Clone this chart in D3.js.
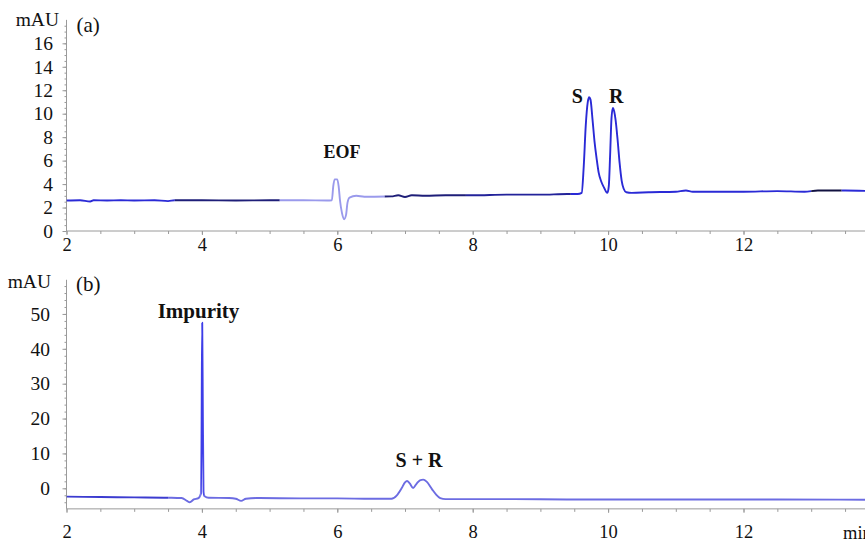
<!DOCTYPE html>
<html><head><meta charset="utf-8">
<script src="https://cdn.jsdelivr.net/npm/d3@7/dist/d3.min.js"></script>
<style>
body{margin:0;background:#fff}
svg{display:block}
text{font-family:"Liberation Serif","Times New Roman",serif;fill:#111}
</style>
</head><body>
<svg id="c" width="865" height="543"></svg>
<script>
// ---------- data ----------
const xTicks = [2, 4, 6, 8, 10, 12];
const aYTicks = [0, 2, 4, 6, 8, 10, 12, 14, 16];
const bYTicks = [0, 10, 20, 30, 40, 50];

// panel (a): time (min) and absorbance (mAU)
const aTime = [2.00, 2.20, 2.35, 2.40, 2.60, 2.80, 3.00, 3.30, 3.50, 3.60, 4.00, 4.50, 5.00, 5.50, 5.85,
  5.92, 5.94, 5.96, 6.00, 6.02, 6.04, 6.07, 6.10, 6.13, 6.15, 6.18, 6.28, 6.40, 6.80, 6.90, 7.00, 7.10, 7.30,
  7.60, 8.00, 8.50, 9.00, 9.40, 9.55, 9.61, 9.64, 9.67, 9.70, 9.72, 9.74, 9.77, 9.80, 9.83, 9.86, 9.90,
  9.94, 9.97, 9.99, 10.01, 10.03, 10.05, 10.07, 10.09, 10.11, 10.14, 10.17, 10.20, 10.23, 10.27, 10.35,
  10.60, 11.00, 11.15, 11.25, 11.60, 12.00, 12.50, 12.90, 13.10, 13.50, 13.90];
const aSignal = [2.60, 2.62, 2.52, 2.62, 2.60, 2.62, 2.60, 2.62, 2.55, 2.62, 2.62, 2.60, 2.62, 2.62, 2.60,
  2.62, 3.80, 4.40, 4.40, 3.80, 2.60, 1.50, 1.00, 1.40, 2.40, 2.85, 3.00, 2.92, 2.95, 3.05, 2.90, 3.05, 3.00,
  3.05, 3.05, 3.10, 3.10, 3.15, 3.15, 3.25, 5.50, 9.00, 11.00, 11.40, 11.20, 9.50, 7.60, 6.20, 5.00, 4.20,
  3.70, 3.35, 3.25, 3.80, 6.50, 9.60, 10.50, 10.20, 9.50, 7.80, 5.80, 4.30, 3.60, 3.30, 3.25,
  3.30, 3.35, 3.45, 3.35, 3.35, 3.35, 3.40, 3.35, 3.45, 3.45, 3.40];

// panel (b)
const bTime = [2.00, 2.50, 3.00, 3.50, 3.70, 3.78, 3.82, 3.88, 3.95, 3.985, 3.995, 4.005, 4.015, 4.025, 4.04,
  4.10, 4.40, 4.50, 4.58, 4.65, 4.80, 5.50, 6.00, 6.50, 6.80, 6.88, 6.95, 7.00, 7.03, 7.07, 7.12, 7.17,
  7.22, 7.27, 7.32, 7.40, 7.46, 7.52, 7.60, 8.50, 9.50, 10.50, 11.50, 12.50, 13.90];
const bSignal = [-2.4, -2.5, -2.6, -2.7, -2.8, -3.6, -4.0, -3.2, -2.8, -1.5, 20.0, 47.5, 20.0, -1.0, -2.3,
  -2.7, -2.8, -3.0, -3.6, -3.0, -2.8, -2.9, -2.9, -3.0, -3.0, -2.0, 0.0, 1.7, 2.1, 1.4, 0.1, 1.3,
  2.3, 2.5, 1.9, -0.3, -1.8, -2.8, -3.1, -3.1, -3.2, -3.2, -3.2, -3.2, -3.3];

// peak annotations (text, time, mAU at text baseline)
const aLabels = [["EOF", 6.07, 6.22], ["S", 9.545, 10.9], ["R", 10.12, 10.9]];
const bLabels = [["Impurity", 3.95, 48.8], ["S + R", 7.207, 6.1]];

// ---------- drawing ----------
const svg = d3.select("#c");
const W = 865;
const x = d3.scaleLinear().domain([2, 14]).range([66.5, 66.5 + 12 * 67.7]);
const yA = d3.scaleLinear().domain([0, 18]).range([231, 231 - 18 * 11.73]);
const yB = d3.scaleLinear().domain([-5.9, 59.8]).range([488.3 + 5.9 * 3.487, 488.3 - 59.8 * 3.487]);

const axisCol = "#9a9a9a";

function styleAxis(g) {
  g.attr("font-family", null).attr("font-size", null);
  g.selectAll("path.domain").attr("stroke", axisCol);
  g.selectAll(".tick line").attr("stroke", axisCol);
}

function panel(y, yTicks, minorStep, xLabelOff, yLabelGap, times, sig, segs, id) {
  const x0 = x(2);
  // x axis
  const gx = svg.append("g").attr("transform", `translate(0,${y.range()[0]})`);
  gx.call(d3.axisBottom(x).tickValues(d3.range(2, 14.01, 0.5)).tickSize(3).tickFormat(""));
  styleAxis(gx);
  gx.select("path.domain").attr("d", `M${x0},0H${W}`);
  const gx2 = svg.append("g").attr("transform", `translate(0,${y.range()[0]})`);
  gx2.call(d3.axisBottom(x).tickValues(xTicks).tickSize(4).tickFormat(d3.format("d")));
  styleAxis(gx2);
  gx2.select("path.domain").remove();
  gx2.selectAll("text").attr("y", xLabelOff).attr("font-size", 18.5);

  // y axis
  const yd = y.domain();
  const gy = svg.append("g").attr("transform", `translate(${x0},0)`);
  gy.call(d3.axisLeft(y).tickValues(d3.range(Math.ceil(yd[0] / minorStep) * minorStep, yd[1], minorStep)).tickSize(2).tickFormat(""));
  styleAxis(gy);
  gy.select("path.domain").attr("d", `M0,${y.range()[0]}V${y.range()[1]}`);
  const gy2 = svg.append("g").attr("transform", `translate(${x0},0)`);
  gy2.call(d3.axisLeft(y).tickValues(yTicks).tickSize(4).tickFormat(d3.format("d")));
  styleAxis(gy2);
  gy2.select("path.domain").remove();
  gy2.selectAll("text").attr("x", -yLabelGap).attr("font-size", 19.5);

  // trace, coloured by segments via clip paths
  const pts = times.map((t, i) => [t, sig[i]]);
  const line = d3.line().x(d => x(d[0])).y(d => y(d[1])).curve(d3.curveMonotoneX);
  segs.forEach((s, i) => {
    const cid = `${id}c${i}`;
    svg.append("clipPath").attr("id", cid).append("rect")
      .attr("x", x(s[0])).attr("y", 0).attr("width", x(s[1]) - x(s[0])).attr("height", 543);
    svg.append("path").datum(pts).attr("d", line).attr("fill", "none")
      .attr("stroke", s[2]).attr("stroke-width", 1.9).attr("stroke-linejoin", "round")
      .attr("clip-path", `url(#${cid})`);
  });
}

const blue = "#2a2ad6", navy = "#1e1e78", light = "#9a9aec";
panel(yA, aYTicks, 0.5, 7, 13.5, aTime, aSignal,
  [[2, 3.6, blue], [3.6, 5.15, navy], [5.15, 6.7, light], [6.7, 7.9, navy], [7.9, 9.45, "#23239a"],
   [9.45, 13.0, blue], [13.0, 13.45, "#111140"], [13.45, 14, blue]], "a");
panel(yB, bYTicks, 2, 16.5, 16.5, bTime, bSignal,
  [[2, 3.5, "#3c3cd0"], [3.5, 3.98, "#6c6ce2"], [3.98, 4.03, "#3d3de8"], [4.03, 14, "#6c6ce2"]], "b");

// axis titles and panel tags
svg.append("text").attr("x", 59).attr("y", 26).attr("text-anchor", "end").attr("font-size", 19.5).text("mAU");
svg.append("text").attr("x", 51).attr("y", 288).attr("text-anchor", "end").attr("font-size", 19.5).text("mAU");
svg.append("text").attr("x", 76.5).attr("y", 32).attr("font-size", 21).text("(a)");
svg.append("text").attr("x", 76).attr("y", 291).attr("font-size", 21).text("(b)");
svg.append("text").attr("x", 843).attr("y", 539).attr("font-size", 18.5).text("min");

aLabels.forEach(l => svg.append("text").attr("x", x(l[1])).attr("y", yA(l[2]))
  .attr("text-anchor", "middle").attr("font-weight", "bold").attr("font-size", l[0] === "EOF" ? 18 : 20).text(l[0]));
bLabels.forEach(l => svg.append("text").attr("x", x(l[1])).attr("y", yB(l[2]))
  .attr("text-anchor", "middle").attr("font-weight", "bold").attr("font-size", l[0] === "Impurity" ? 21 : 20).text(l[0]));
</script>
</body></html>
